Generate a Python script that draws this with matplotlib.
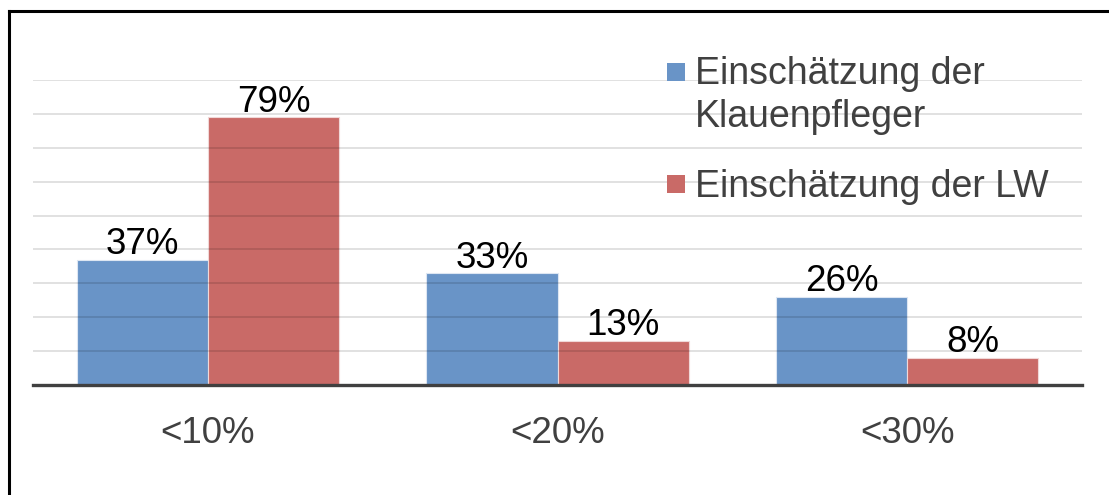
import matplotlib
matplotlib.use("Agg")
import matplotlib.pyplot as plt
from matplotlib.patches import Rectangle
from matplotlib.lines import Line2D
import numpy as np

# Data
categories = ["<10%", "<20%", "<30%"]
klauenpfleger = [37, 33, 26]
landwirte = [79, 13, 8]
series_labels = ["Einschätzung der\nKlauenpfleger", "Einschätzung der LW"]

plt.rcParams['font.family'] = ['Liberation Sans', 'DejaVu Sans']

W, H = 1109, 495
fig = plt.figure(figsize=(W / 100, H / 100), dpi=100)
fig.patch.set_facecolor("white")

# outer frame (top and left edges)
fig.add_artist(Line2D([8.5 / W, 8.5 / W], [0, 1 - 11 / H], color="black", lw=2.2,
                      transform=fig.transFigure))
fig.add_artist(Line2D([8.5 / W, 1], [1 - 11 / H, 1 - 11 / H], color="black", lw=2.2,
                      transform=fig.transFigure))

left, right = 33 / W, 1082 / W
bottom, top = (H - 385) / H, (H - 80) / H
ax = fig.add_axes([left, bottom, right - left, top - bottom])

blue = "#6994C7"
red = "#C96A67"
x = np.arange(len(categories))
bw = 0.375

b1 = ax.bar(x - bw / 2, klauenpfleger, bw, color=blue, edgecolor="#DDE6F2",
            linewidth=0.8, zorder=1)
b2 = ax.bar(x + bw / 2, landwirte, bw, color=red, edgecolor="#F0D8D8",
            linewidth=0.8, zorder=1)

ax.set_xlim(-0.5, len(categories) - 0.5)
ax.set_ylim(0, 90)
ax.set_yticks(np.arange(10, 91, 10))
ax.yaxis.grid(True, color="black", alpha=0.14, linewidth=1.2, zorder=2)
ax.set_axisbelow(False)
for bars in (b1, b2):
    for b in bars:
        b.set_zorder(1)
ax.tick_params(axis="y", left=False, labelleft=False)
ax.set_xticks(x)
ax.set_xticklabels(categories, fontsize=26.5, color="#404040")
ax.tick_params(axis="x", length=0, pad=22)
for s in ("top", "right", "left"):
    ax.spines[s].set_visible(False)
ax.spines["bottom"].set_color("#404040")
ax.spines["bottom"].set_linewidth(2.4)
ax.spines["bottom"].set_zorder(3)

# value labels
for bars, vals in ((b1, klauenpfleger), (b2, landwirte)):
    for b, v in zip(bars, vals):
        ax.annotate(f"{v}%", (b.get_x() + b.get_width() / 2, v),
                    xytext=(0, 4), textcoords="offset points",
                    ha="center", va="baseline", fontsize=26.5, color="black",
                    zorder=4)

# legend
def fx(px):
    return px / W

def fy(py):
    return 1 - py / H

sq = 18
for (ytop, col, lab, base) in ((63, blue, series_labels[0], 84),
                                (175, red, series_labels[1], 197)):
    fig.add_artist(Rectangle((fx(667), fy(ytop + sq)), sq / W, sq / H,
                             transform=fig.transFigure, facecolor=col,
                             edgecolor="none"))
    lines = lab.split("\n")
    for i, line in enumerate(lines):
        fig.text(fx(695), fy(base + 43 * i), line, fontsize=27,
                 color="#404040", ha="left", va="baseline")

fig.savefig("out.png", dpi=100, facecolor="white")
